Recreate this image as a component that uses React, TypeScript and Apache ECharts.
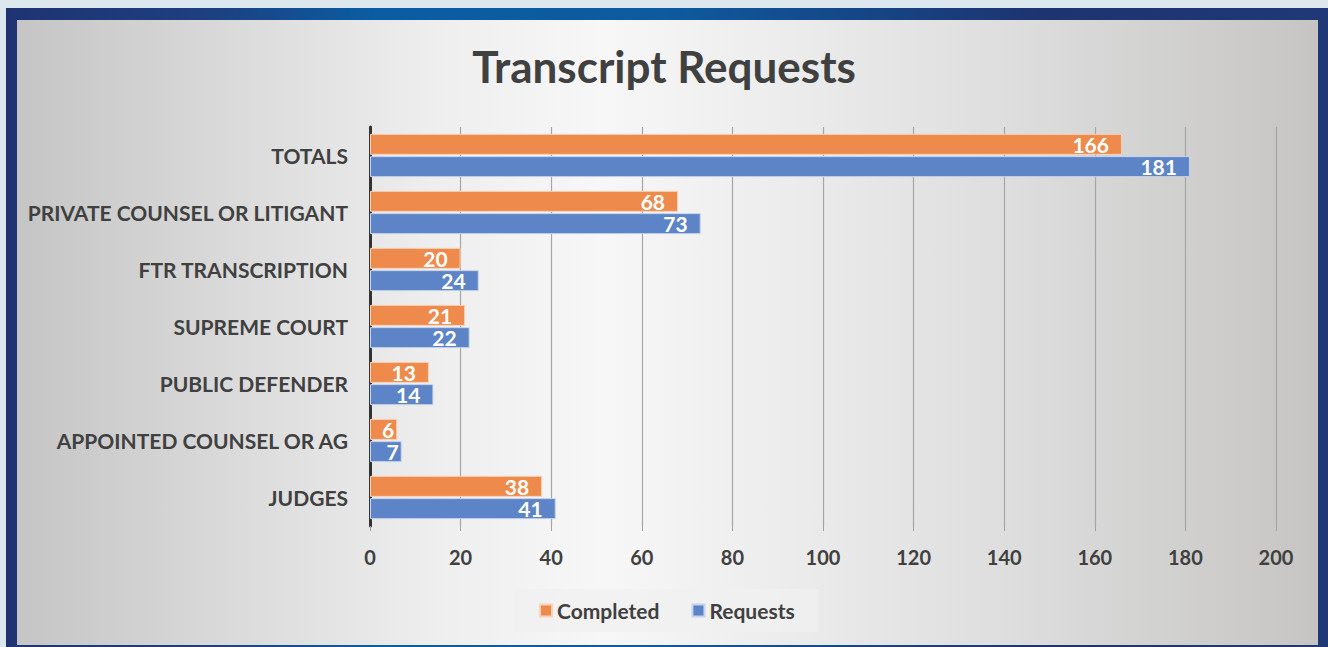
import React, { useEffect, useRef } from "react";
import * as echarts from "echarts";

const categories = [
  "TOTALS",
  "PRIVATE COUNSEL OR LITIGANT",
  "FTR TRANSCRIPTION",
  "SUPREME COURT",
  "PUBLIC DEFENDER",
  "APPOINTED COUNSEL OR AG",
  "JUDGES",
];
const completed = [166, 68, 20, 21, 13, 6, 38];
const requests = [181, 73, 24, 22, 14, 7, 41];
const xTicks = [0, 20, 40, 60, 80, 100, 120, 140, 160, 180, 200];

const FONT = "Lato, 'Open Sans', sans-serif";

const withLabelFit = (arr: number[]) =>
  arr.map((v) => (v < 10 ? { value: v, label: { distance: 3 } } : v));

export default function App() {
  const ref = useRef<HTMLDivElement>(null);
  useEffect(() => {
    if (!ref.current) return;
    const chart = echarts.init(ref.current, null, { renderer: "svg" });
    const label = {
      show: true,
      position: "insideRight",
      distance: 13,
      color: "#ffffff",
      fontFamily: FONT,
      fontWeight: "bold",
      fontSize: 21,
    };
    chart.setOption({
      animation: false,
      backgroundColor: "transparent",
      title: {
        text: "Transcript Requests",
        left: "center",
        top: 39,
        textStyle: { fontFamily: FONT, fontWeight: "bold", fontSize: 44, color: "#404040" },
      },
      legend: {
        data: ["Completed", "Requests"],
        left: 515,
        top: 589,
        icon: "rect",
        itemWidth: 12,
        itemHeight: 12,
        itemGap: 32,
        padding: [11, 24],
        backgroundColor: "rgba(240,240,240,0.75)",
        textStyle: { fontFamily: FONT, fontWeight: "bold", fontSize: 21, color: "#404040" },
      },
      grid: { left: 370, right: 52, top: 127, bottom: 121, containLabel: false },
      xAxis: {
        type: "value",
        min: 0,
        max: 200,
        interval: 20,
        axisLine: { show: false },
        axisTick: { show: true, length: 5, lineStyle: { color: "#a0a0a0" } },
        splitLine: { show: true, lineStyle: { color: "#a6a6a6", width: 1.2 } },
        axisLabel: {
          margin: 21,
          fontFamily: FONT,
          fontWeight: "bold",
          fontSize: 20,
          color: "#404040",
          formatter: (v: number) => (xTicks.includes(v) ? String(v) : ""),
        },
      },
      yAxis: {
        type: "category",
        data: categories,
        inverse: true,
        axisLine: { show: true, lineStyle: { color: "#333333", width: 3 } },
        axisTick: { show: false },
        axisLabel: {
          margin: 22,
          fontFamily: FONT,
          fontWeight: "bold",
          fontSize: 21,
          color: "#404040",
        },
      },
      series: [
        {
          name: "Completed",
          type: "bar",
          data: withLabelFit(completed),
          barWidth: 21,
          barGap: "6%",
          itemStyle: { color: "#EE8B4C", borderColor: "#f6d2b8", borderWidth: 1 },
          label,
        },
        {
          name: "Requests",
          type: "bar",
          data: withLabelFit(requests),
          barWidth: 21,
          barGap: "6%",
          itemStyle: { color: "#5D84C6", borderColor: "#c6d4ec", borderWidth: 1 },
          label,
        },
      ],
    });
    return () => chart.dispose();
  }, []);

  return (
    <div
      style={{
        position: "fixed",
        left: 0,
        top: 0,
        width: 1328,
        height: 647,
        background: "#dde7ee",
        overflow: "hidden",
      }}
    >
      <div
        style={{
          position: "absolute",
          left: 6,
          top: 8,
          width: 1322,
          height: 639,
          background:
            "linear-gradient(90deg, #1f3372 0%, #1d3f80 15%, #0a5da3 28%, #0d5a9f 50%, #1d3470 78%, #213877 100%)",
        }}
      />
      <div
        style={{
          position: "absolute",
          left: 17,
          top: 20,
          width: 1301,
          height: 625,
          background:
            "linear-gradient(90deg, #c5c5c5 0%, #dcdcdc 18%, #eeeeee 32%, #f7f7f7 45%, #ededed 58%, #dcdcdc 78%, #c6c5c3 100%)",
        }}
      />
      <div ref={ref} style={{ position: "absolute", left: 0, top: 0, width: 1328, height: 647 }} />
    </div>
  );
}
